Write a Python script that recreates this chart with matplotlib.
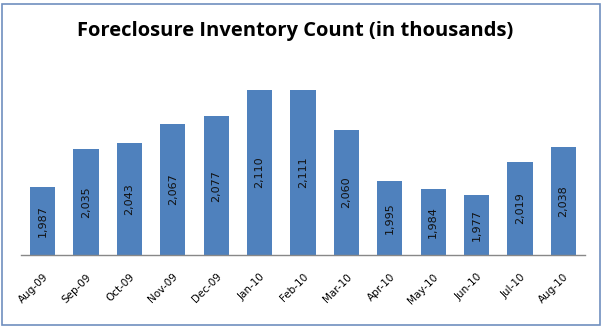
import matplotlib.pyplot as plt
import numpy as np
from matplotlib.patches import Rectangle

months = ['Aug-09', 'Sep-09', 'Oct-09', 'Nov-09', 'Dec-09', 'Jan-10', 'Feb-10',
          'Mar-10', 'Apr-10', 'May-10', 'Jun-10', 'Jul-10', 'Aug-10']
inventory = [1987, 2035, 2043, 2067, 2077, 2110, 2111,
             2060, 1995, 1984, 1977, 2019, 2038]

plt.rcParams['font.family'] = 'DejaVu Sans'

fig = plt.figure(figsize=(6.03, 3.28), dpi=100)
ax = fig.add_axes([21 / 603, 73 / 328, 564 / 603, 196 / 328])

x = np.arange(len(months))
bars = ax.bar(x, inventory, width=0.58, color='#4f81bd', bottom=0)

ax.set_xlim(-0.5, len(months) - 0.5)
ax.set_ylim(1900, 2150)

for xi, v in zip(x, inventory):
    ax.text(xi, (1900 + v) / 2, f'{v:,}', rotation=90, ha='center', va='center',
            fontsize=8, color='#111111')

ax.set_xticks(x)
ax.set_xticklabels(months, rotation=45, ha='right', rotation_mode='anchor',
                   fontsize=7.5)
ax.tick_params(axis='x', length=0, pad=12)
ax.set_yticks([])
for s in ['top', 'right', 'left']:
    ax.spines[s].set_visible(False)
ax.spines['bottom'].set_color('#888888')
ax.spines['bottom'].set_linewidth(1)

fig.text(0.490, 0.905, 'Foreclosure Inventory Count (in thousands)',
         ha='center', va='center', fontsize=14.5, fontweight='bold',
         family='Open Sans')

# outer frame around the chart
fig.patches.append(Rectangle((2 / 603, 3 / 328), 598 / 603, 321 / 328,
                             transform=fig.transFigure, fill=False,
                             edgecolor='#6f8fbf', linewidth=1.2))

fig.savefig('out.png', dpi=100)
